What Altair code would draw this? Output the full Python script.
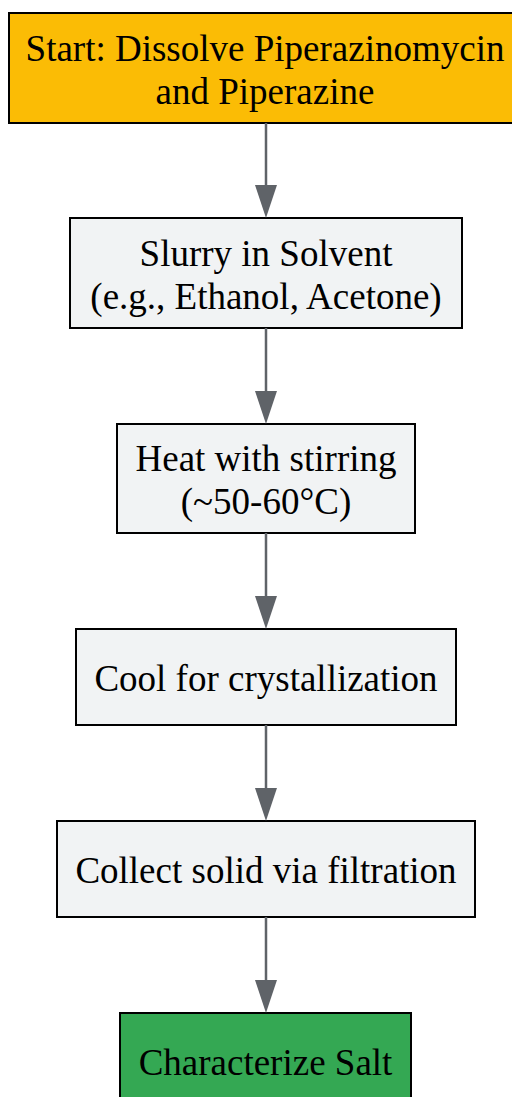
import altair as alt
import pandas as pd

# Flowchart nodes
labels = [
    "Start: Dissolve Piperazinomycin\nand Piperazine",
    "Slurry in Solvent\n(e.g., Ethanol, Acetone)",
    "Heat with stirring\n(~50-60°C)",
    "Cool for crystallization",
    "Collect solid via filtration",
    "Characterize Salt",
]
fills = ["#FBBC05", "#F1F3F4", "#F1F3F4", "#F1F3F4", "#F1F3F4", "#34A853"]
box_left = [9, 70, 117, 76, 57, 120]
box_right = [521, 462, 415, 456, 475, 411]
box_top = [13, 218, 424, 629, 821, 1013]
box_bottom = [123, 328, 533, 725, 917, 1109]

center_x = 266
head_len = 33
line_h = 43

nodes = pd.DataFrame({
    "label": labels, "fill": fills,
    "x0": box_left, "x1": box_right, "y0": box_top, "y1": box_bottom,
})
nodes["cx"] = (nodes["x0"] + nodes["x1"]) / 2
nodes["cy"] = (nodes["y0"] + nodes["y1"]) / 2

rows = []
for _, r in nodes.iterrows():
    parts = r["label"].split("\n")
    n = len(parts)
    for i, p in enumerate(parts):
        rows.append({"t": p, "cx": r["cx"], "ty": r["cy"] + (i - (n - 1) / 2) * line_h})
text_df = pd.DataFrame(rows)

edges = pd.DataFrame({
    "ya": box_bottom[:-1],
    "yb": [t - head_len for t in box_top[1:]],
    "tip": box_top[1:],
})
edges["x"] = center_x
edges["hy"] = edges["tip"] - head_len / 2

W, H = 504, 1089
xs = alt.Scale(domain=[8, 8 + W], range=[0, W])
ys = alt.Scale(domain=[8, 8 + H], range=[0, H])

rects = alt.Chart(nodes).mark_rect(stroke="black", strokeWidth=2, clip=True).encode(
    x=alt.X("x0:Q", scale=xs, axis=None),
    x2="x1:Q",
    y=alt.Y("y0:Q", scale=ys, axis=None),
    y2="y1:Q",
    fill=alt.Fill("fill:N", scale=None),
)

texts = alt.Chart(text_df).mark_text(
    font="Liberation Serif", fontSize=37, dy=3,
    color="black", baseline="middle", align="center",
).encode(
    x=alt.X("cx:Q", scale=xs, axis=None),
    y=alt.Y("ty:Q", scale=ys, axis=None),
    text="t:N",
)

lines = alt.Chart(edges).mark_rule(color="#5f6368", strokeWidth=2.5).encode(
    x=alt.X("x:Q", scale=xs, axis=None),
    y=alt.Y("ya:Q", scale=ys, axis=None),
    y2="yb:Q",
)

heads = alt.Chart(edges).mark_point(
    shape="M-0.333,-0.5L0.333,-0.5L0,0.5Z", size=4356, filled=True,
    color="#5f6368", opacity=1, strokeWidth=0,
).encode(
    x=alt.X("x:Q", scale=xs, axis=None),
    y=alt.Y("hy:Q", scale=ys, axis=None),
)

chart = alt.layer(rects, lines, heads, texts).properties(
    width=W, height=H, padding=0, autosize="none",
).configure_view(stroke=None)

chart.save("out.html", embed_options={"renderer": "svg", "actions": False})
